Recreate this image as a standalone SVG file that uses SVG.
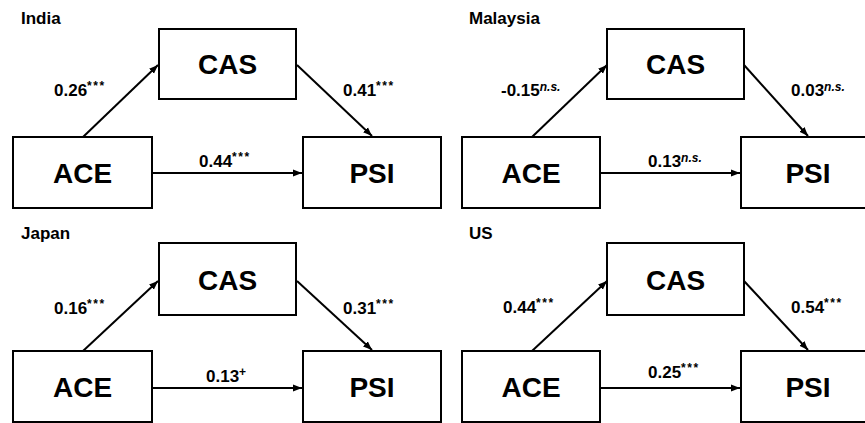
<svg xmlns="http://www.w3.org/2000/svg" width="865" height="423" viewBox="0 0 865 423">
<style>
.box{fill:#fff;stroke:#000;stroke-width:2}
.nt{font-family:"Liberation Sans",Arial,sans-serif;font-weight:bold;font-size:28px;text-anchor:middle;fill:#000}
.tt{font-family:"Liberation Sans",Arial,sans-serif;font-weight:bold;font-size:17px;fill:#000}
.lb{font-family:"Liberation Sans",Arial,sans-serif;font-weight:bold;font-size:17px;fill:#000}
.sup{font-size:12px;letter-spacing:1.5px}
.ns{font-size:12px;font-style:italic}
.ln{stroke:#000;stroke-width:2;fill:none;marker-end:url(#ah)}
</style>
<defs>
<marker id="ah" markerUnits="userSpaceOnUse" markerWidth="10" markerHeight="8" refX="9" refY="4" orient="auto">
<path d="M0,0.5 L9,4 L0,7.5 Z" fill="#000"/>
</marker>
</defs>
<rect width="865" height="423" fill="#fff"/>

<g id="connectors">
<line class="ln" x1="83" y1="137" x2="158" y2="65"/>
<line class="ln" x1="297" y1="65" x2="372" y2="136"/>
<line class="ln" x1="152" y1="173" x2="302" y2="173"/>
<line class="ln" x1="532" y1="137" x2="607" y2="65"/>
<line class="ln" x1="744" y1="65" x2="808" y2="136"/>
<line class="ln" x1="600" y1="173" x2="740" y2="173"/>
<line class="ln" x1="83" y1="351" x2="158" y2="281"/>
<line class="ln" x1="297" y1="281" x2="372" y2="350"/>
<line class="ln" x1="152" y1="388" x2="302" y2="388"/>
<line class="ln" x1="532" y1="351" x2="607" y2="281"/>
<line class="ln" x1="744" y1="281" x2="808" y2="350"/>
<line class="ln" x1="600" y1="388" x2="740" y2="388"/>
</g>

<g id="labels">
<text class="tt" x="21" y="24">India</text>
<text class="tt" x="469" y="24">Malaysia</text>
<text class="tt" x="21" y="239">Japan</text>
<text class="tt" x="469" y="239">US</text>

<text class="lb" x="54" y="96">0.26<tspan class="sup" dy="-6">***</tspan></text>
<text class="lb" x="343" y="96">0.41<tspan class="sup" dy="-6">***</tspan></text>
<text class="lb" x="199" y="167">0.44<tspan class="sup" dy="-6">***</tspan></text>

<text class="lb" x="501" y="96">-0.15<tspan class="ns" dy="-5">n.s.</tspan></text>
<text class="lb" x="791" y="96">0.03<tspan class="ns" dy="-5">n.s.</tspan></text>
<text class="lb" x="648" y="167">0.13<tspan class="ns" dy="-5">n.s.</tspan></text>

<text class="lb" x="54" y="314">0.16<tspan class="sup" dy="-6">***</tspan></text>
<text class="lb" x="343" y="314">0.31<tspan class="sup" dy="-6">***</tspan></text>
<text class="lb" x="206" y="382">0.13<tspan class="sup" dy="-6">+</tspan></text>

<text class="lb" x="503" y="313">0.44<tspan class="sup" dy="-6">***</tspan></text>
<text class="lb" x="791" y="313">0.54<tspan class="sup" dy="-6">***</tspan></text>
<text class="lb" x="648" y="378">0.25<tspan class="sup" dy="-6">***</tspan></text>
</g>

<g id="india-cas"><rect class="box" x="159" y="29" width="137" height="70"/><text class="nt" x="227.5" y="74">CAS</text></g>
<g id="india-ace"><rect class="box" x="13" y="137" width="139" height="71"/><text class="nt" x="82.5" y="183">ACE</text></g>
<g id="india-psi"><rect class="box" x="303" y="137" width="138" height="71"/><text class="nt" x="372" y="183">PSI</text></g>

<g id="malaysia-cas"><rect class="box" x="607" y="29" width="137" height="70"/><text class="nt" x="675.5" y="74">CAS</text></g>
<g id="malaysia-ace"><rect class="box" x="462" y="137" width="138" height="71"/><text class="nt" x="531" y="183">ACE</text></g>
<g id="malaysia-psi"><rect class="box" x="741" y="137" width="126" height="71"/><text class="nt" x="808" y="183">PSI</text></g>

<g id="japan-cas"><rect class="box" x="159" y="243" width="137" height="72"/><text class="nt" x="227.5" y="290">CAS</text></g>
<g id="japan-ace"><rect class="box" x="13" y="351" width="139" height="71"/><text class="nt" x="82.5" y="397">ACE</text></g>
<g id="japan-psi"><rect class="box" x="303" y="351" width="138" height="71"/><text class="nt" x="372" y="397">PSI</text></g>

<g id="us-cas"><rect class="box" x="607" y="243" width="137" height="72"/><text class="nt" x="675.5" y="290">CAS</text></g>
<g id="us-ace"><rect class="box" x="462" y="351" width="138" height="71"/><text class="nt" x="531" y="397">ACE</text></g>
<g id="us-psi"><rect class="box" x="741" y="351" width="126" height="71"/><text class="nt" x="808" y="397">PSI</text></g>
</svg>
